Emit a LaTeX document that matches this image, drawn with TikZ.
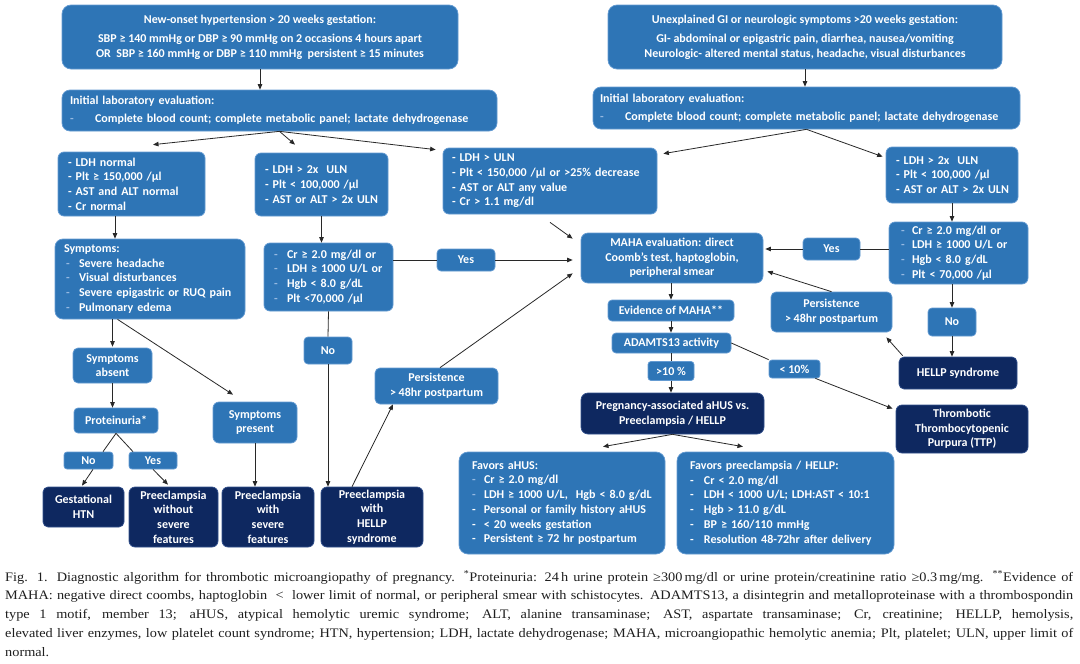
\documentclass[tikz,border=0pt]{standalone}
\usepackage{fontspec}
\setmainfont{Carlito}
\newfontfamily\capfont[FakeStretch=1.1]{Liberation Serif}
\usetikzlibrary{arrows.meta,calc}
\definecolor{mblue}{RGB}{46,117,182}
\definecolor{mbord}{RGB}{100,155,210}
\definecolor{navy}{RGB}{14,40,96}
\definecolor{navyb}{RGB}{50,80,140}
\definecolor{dashc}{RGB}{150,185,225}
\definecolor{arrc}{RGB}{40,40,40}
\newcommand\bxf{\fontsize{12}{14.7}\selectfont\bfseries}
\newcommand\dsh[1]{\makebox[#1][l]{\color{dashc}-}}
\newcommand\wdsh[1]{\makebox[#1][l]{-}}
\tikzset{
 bx/.style={rectangle, rounded corners=6pt, fill=mblue, draw=mbord, line width=0.7pt, text=white, font=\bxf, inner sep=0pt, align=center},
 nv/.style={bx, fill=navy, draw=navyb},
 lbx/.style={bx, align=left},
 arr/.style={draw=arrc, line width=0.8pt, -{Triangle[length=5.5pt,width=4.5pt]}},
 ln/.style={draw=arrc, line width=0.8pt},
}
\begin{document}
\begin{tikzpicture}[x=1pt,y=-1pt]
\fill[white] (0,0) rectangle (1080,664);
\useasboundingbox (0,0) rectangle (1080,664);

% top boxes
\node[bx, minimum width=396pt, minimum height=64pt, rounded corners=9pt] (tl) at (260,37)
 {New-onset hypertension > 20 weeks gestation:\\[5pt]SBP ≥ 140 mmHg or DBP ≥ 90 mmHg on 2 occasions 4 hours apart\\OR\ \ SBP ≥ 160 mmHg or DBP ≥ 110 mmHg\ \ persistent ≥ 15 minutes};
\node[bx, minimum width=394pt, minimum height=64pt, rounded corners=9pt] (tr) at (805,37)
 {Unexplained GI or neurologic symptoms >20 weeks gestation:\\[5pt]GI- abdominal or epigastric pain, diarrhea, nausea/vomiting\\Neurologic- altered mental status, headache, visual disturbances};

\node[lbx, minimum height=41pt, text width=419pt, inner xsep=8pt, rounded corners=8pt] (labL) at (279.5,110.5)
 {\mbox{Initial laboratory evaluation:}\\[3pt]\mbox{\dsh{25pt}Complete blood count; complete metabolic panel; lactate dehydrogenase}};
\node[lbx, minimum height=42pt, text width=413pt, inner xsep=7pt, rounded corners=8pt] (labR) at (806.5,108)
 {\mbox{Initial laboratory evaluation:}\\[3pt]\mbox{\dsh{25pt}Complete blood count; complete metabolic panel; lactate dehydrogenase}};

% second row
\node[lbx, minimum height=64pt, text width=127pt, inner xsep=10pt] (ldhN) at (131.5,184)
 {\mbox{- LDH normal}\\\mbox{- Plt ≥ 150,000 /µl}\\\mbox{- AST and ALT normal}\\\mbox{- Cr normal}};
\node[lbx, minimum height=63pt, text width=113pt, inner xsep=10pt] (ldh2L) at (321.5,184.5)
 {\mbox{- LDH > 2x\ \ ULN}\\\mbox{- Plt < 100,000 /µl}\\\mbox{- AST or ALT > 2x ULN}};
\node[lbx, minimum height=66pt, text width=196pt, inner xsep=9pt] (ldhU) at (550,181)
 {\mbox{- LDH > ULN}\\\mbox{- Plt < 150,000 /µl or >25\% decrease}\\\mbox{- AST or ALT any value}\\\mbox{- Cr > 1.1 mg/dl}};
\node[lbx, minimum height=56pt, text width=112pt, inner xsep=10pt] (ldh2R) at (952,175)
 {\mbox{- LDH > 2x\ \ ULN}\\\mbox{- Plt < 100,000 /µl}\\\mbox{- AST or ALT > 2x ULN}};

% third row
\node[lbx, minimum height=80pt, text width=172pt, inner xsep=9pt, rounded corners=8pt] (sym) at (150,279)
 {\mbox{Symptoms:}\\\mbox{\hspace*{2pt}\dsh{13pt}Severe headache}\\\mbox{\hspace*{2pt}\dsh{13pt}Visual disturbances}\\\mbox{\hspace*{2pt}\dsh{13pt}Severe epigastric or RUQ pain}\\\mbox{\hspace*{2pt}\dsh{13pt}Pulmonary edema}};
\node[lbx, minimum height=68pt, text width=111pt, inner xsep=9pt] (crL) at (328.5,277)
 {\mbox{\hspace*{1pt}\dsh{13pt}Cr ≥ 2.0 mg/dl or}\\\mbox{\hspace*{1pt}\dsh{13pt}LDH ≥ 1000 U/L or}\\\mbox{\hspace*{1pt}\dsh{13pt}Hgb < 8.0 g/dL}\\\mbox{\hspace*{1pt}\dsh{13pt}Plt <70,000 /µl}};
\node[bx, minimum width=58pt, minimum height=22pt, rounded corners=4pt] (yesL) at (466,260) {Yes};
\node[bx, minimum width=182pt, minimum height=50pt, rounded corners=7pt] (maha) at (672,258)
 {MAHA evaluation: direct\\Coomb’s test, haptoglobin,\\peripheral smear};
\node[bx, minimum width=57pt, minimum height=22pt, rounded corners=4pt] (yesR) at (831.5,249) {Yes};
\node[lbx, minimum height=62pt, text width=115pt, inner xsep=12pt] (crR) at (958.5,253)
 {\mbox{\dsh{11pt}Cr ≥ 2.0 mg/dl or}\\\mbox{\dsh{11pt}LDH ≥ 1000 U/L or}\\\mbox{\dsh{11pt}Hgb < 8.0 g/dL}\\\mbox{\dsh{11pt}Plt < 70,000 /µl}};

% middle column
\node[bx, minimum width=126pt, minimum height=21pt, rounded corners=4pt] (evid) at (671,310.5) {Evidence of MAHA**};
\node[bx, minimum width=121pt, minimum height=40pt, rounded corners=5pt] (persR) at (831.5,312) {Persistence\\> 48hr postpartum};
\node[bx, minimum width=48pt, minimum height=28pt, rounded corners=4pt] (noR) at (952,322) {No};
\node[bx, minimum width=119pt, minimum height=20pt, rounded corners=4pt] (adam) at (671.5,343) {ADAMTS13 activity};
\node[bx, minimum width=46pt, minimum height=19pt, rounded corners=3pt] (gt10) at (671,371) {>10 \%};
\node[bx, minimum width=51pt, minimum height=18pt, rounded corners=3pt] (lt10) at (794.5,369) {< 10\%};
\node[nv, minimum width=118pt, minimum height=32pt, rounded corners=5pt] (hellpS) at (958,373) {HELLP syndrome};
\node[nv, minimum width=183pt, minimum height=41pt, rounded corners=7pt] (preg) at (672.5,413.5) {Pregnancy-associated aHUS vs.\\Preeclampsia / HELLP};
\node[nv, minimum width=132pt, minimum height=48pt, rounded corners=6pt] (ttp) at (962,429) {Thrombotic\\Thrombocytopenic\\Purpura (TTP)};

\node[lbx, minimum height=102pt, text width=180pt, inner xsep=13pt, rounded corners=9pt] (favA) at (562,503)
 {\mbox{Favors aHUS:}\\\mbox{\dsh{12pt}Cr ≥ 2.0 mg/dl}\\\mbox{\dsh{12pt}LDH ≥ 1000 U/L,\ \ Hgb < 8.0 g/dL}\\\mbox{\wdsh{12pt}Personal or family history aHUS}\\\mbox{\wdsh{12pt}< 20 weeks gestation}\\\mbox{\wdsh{12pt}Persistent ≥ 72 hr postpartum}};
\node[lbx, minimum height=102pt, text width=191pt, inner xsep=13pt, rounded corners=9pt] (favP) at (785.5,503)
 {\mbox{Favors preeclampsia / HELLP:}\\\mbox{\wdsh{14pt}Cr < 2.0 mg/dl}\\\mbox{\wdsh{14pt}LDH < 1000 U/L; LDH:AST < 10:1}\\\mbox{\wdsh{14pt}Hgb > 11.0 g/dL}\\\mbox{\wdsh{14pt}BP ≥ 160/110 mmHg}\\\mbox{\wdsh{14pt}Resolution 48-72hr after delivery}};

% left lower
\node[bx, minimum width=79pt, minimum height=35pt, rounded corners=5pt] (symA) at (112.5,365.5) {Symptoms\\absent};
\node[bx, minimum width=84pt, minimum height=25pt, rounded corners=4pt] (prot) at (116,420.5) {Proteinuria*};
\node[bx, minimum width=84pt, minimum height=41pt, rounded corners=6pt] (symP) at (255,422.5) {Symptoms\\present};
\node[bx, minimum width=48pt, minimum height=27pt, rounded corners=4pt] (noL) at (328,350.5) {No};
\node[bx, minimum width=123pt, minimum height=36pt, rounded corners=5pt] (persL) at (436.5,386) {Persistence\\> 48hr postpartum};
\node[bx, minimum width=49pt, minimum height=17pt, rounded corners=3pt] (noP) at (88.5,460.5) {No};
\node[bx, minimum width=48pt, minimum height=17pt, rounded corners=3pt] (yesP) at (153,460.5) {Yes};
\node[nv, minimum width=81pt, minimum height=40pt, rounded corners=5pt] (gest) at (83.5,507) {Gestational\\HTN};
\node[nv, minimum width=89pt, minimum height=60pt, rounded corners=6pt] (peW) at (173.5,517) {Preeclampsia\\without\\severe\\features};
\node[nv, minimum width=92pt, minimum height=60pt, rounded corners=6pt] (peS) at (268,517) {Preeclampsia\\with\\severe\\features};
\node[nv, minimum width=102pt, minimum height=60pt, rounded corners=6pt] (peH) at (372,517) {Preeclampsia\\with\\HELLP\\syndrome};

% connectors
\draw[arr] (tl.south) -- (tl.south |- labL.north);
\draw[arr] (tr.south) -- (tr.south |- labR.north);
\draw[arr] (labL.south) -- ([xshift=21.5pt,yshift=7pt]ldhN.north);
\draw[arr] (labL.south) -- ([xshift=-26.5pt,yshift=8pt]ldh2L.north);
\draw[arr] (labL.south) -- ([xshift=-7pt,yshift=-2pt]ldhU.north west);
\draw[arr] (labR.south) -- ([xshift=6pt,yshift=-6pt]ldhU.north east);
\draw[arr] (labR.south) -- ([xshift=-3pt,yshift=-10pt]ldh2R.north west);
\coordinate (c1) at ([xshift=-16.5pt]ldhN.south);
\draw[arr] (c1) -- (c1 |- sym.north);
\draw[arr] (ldh2L.south) -- (ldh2L.south |- crL.north);
\draw[ln] (crL.south) -- (noL.north);
\draw[arr] (noL.south) -- (noL.south |- peH.north);
\draw[arr] ([xshift=-20pt]peH.north) -- ([xshift=-43.5pt]persL.south);
\draw[arr] ([xshift=3.5pt]persL.north) -- ([xshift=-8pt,yshift=10pt]maha.south west);
\draw[ln] (yesL.west -| crL.east) -- (yesL.west);
\draw[arr, shorten >=8pt] (yesL.east) -- (yesL.east -| maha.west);
\draw[arr] ([yshift=-8pt]ldhU.south) -- ([xshift=-8pt,yshift=-6pt]maha.north west);
\draw[ln] (yesR.east) -- (yesR.east -| crR.west);
\draw[arr, shorten >=2pt] (yesR.west) -- (yesR.west -| maha.east);
\draw[arr] (persR.north) -- ([xshift=4pt,yshift=12pt]maha.south east);
\draw[arr] ([xshift=4pt,yshift=1pt]hellpS.north west) -- ([xshift=-6pt,yshift=-5pt]persR.south east);
\draw[arr] (ldh2R.south) -- (ldh2R.south |- crR.north);
\draw[arr] (noR.north |- crR.south) -- (noR.north);
\draw[arr] (noR.south) -- (noR.south |- hellpS.north);
\draw[arr] (evid.north |- maha.south) -- (evid.north);
\draw[arr] (evid.south) -- (evid.south |- adam.north);
\draw[ln] (gt10.north |- adam.south) -- (gt10.north);
\draw[arr] (gt10.south) -- (gt10.south |- preg.north);
\draw[ln] (adam.east) -- (lt10.north west);
\draw[arr] ([xshift=-5pt]lt10.south east) -- ([xshift=-3pt,yshift=-4pt]ttp.north west);
\draw[arr] (preg.south) -- ([xshift=41pt,yshift=5pt]favA.north);
\draw[arr] (preg.south) -- ([xshift=-42.5pt,yshift=5pt]favP.north);
\coordinate (c2) at (symA.north |- sym.south);
\draw[arr, shorten >=1pt] (c2) -- (symA.north);
\draw[arr] ([xshift=5pt]c2) -- ([xshift=-22pt,yshift=7pt]symP.north);
\draw[arr] (symA.south) -- (symA.south |- prot.north);
\draw[ln] (prot.south) -- ([xshift=14.5pt]noP.north);
\draw[ln] (prot.south) -- ([xshift=-20pt]yesP.north);
\draw[arr] ([xshift=4.5pt]noP.south) -- ([xshift=-1.5pt,yshift=1pt]gest.north);
\draw[arr] (yesP.south) -- ([xshift=-5.5pt,yshift=2pt]peW.north);
\draw[arr] (symP.south) -- (symP.south |- peS.north);

% caption
\node[anchor=base west, inner sep=0pt, text=black!88, font=\capfont\fontsize{13}{18.8}\selectfont] (cap) at (5,581)
{\vtop{\hsize=1068pt \baselineskip=18.8pt
\hbox to\hsize{Fig. 1. Diagnostic algorithm for thrombotic microangiopathy of pregnancy. \textsuperscript{*}Proteinuria: 24\,h urine protein ≥300\,mg/dl or urine protein/creatinine ratio ≥0.3\,mg/mg. \textsuperscript{**}Evidence of}
\hbox to\hsize{MAHA: negative direct coombs, haptoglobin \ < \ lower limit of normal, or peripheral smear with schistocytes. ADAMTS13, a disintegrin and metalloproteinase with a thrombospondin}
\hbox to\hsize{type 1 motif, member 13; aHUS, atypical hemolytic uremic syndrome; ALT, alanine transaminase; AST, aspartate transaminase; Cr, creatinine; HELLP, hemolysis,}
\hbox to\hsize{elevated liver enzymes, low platelet count syndrome; HTN, hypertension; LDH, lactate dehydrogenase; MAHA, microangiopathic hemolytic anemia; Plt, platelet; ULN, upper limit of}
\hbox{normal.}}};
\end{tikzpicture}
\end{document}
